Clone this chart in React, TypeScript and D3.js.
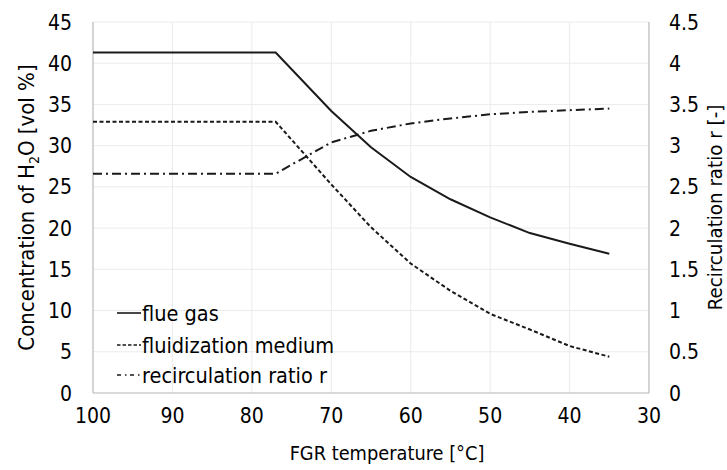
import React from "react";
import * as d3 from "d3";

const temps = [100, 77, 70, 65, 60, 55, 50, 45, 40, 35];
const flueGas = [41.3, 41.3, 34.2, 29.8, 26.2, 23.5, 21.3, 19.4, 18.1, 16.9];
const fluidMedium = [32.9, 32.9, 25.3, 20.1, 15.7, 12.4, 9.6, 7.7, 5.7, 4.4];
const recircRatio = [2.66, 2.66, 3.04, 3.18, 3.27, 3.33, 3.38, 3.41, 3.43, 3.45];

const xTicks = [100, 90, 80, 70, 60, 50, 40, 30];
const yLeftTicks = [0, 5, 10, 15, 20, 25, 30, 35, 40, 45];
const yRightTicks = [0, 0.5, 1, 1.5, 2, 2.5, 3, 3.5, 4, 4.5];
const legendLabels = ["flue gas", "fluidization medium", "recirculation ratio r"];

const W = 727;
const H = 470;
const L = 93, R = 649, T = 22, B = 393;
const FONT = "'DejaVu Sans Condensed', 'DejaVu Sans', sans-serif";

export default function App() {
  const x = d3.scaleLinear().domain([100, 30]).range([L, R]);
  const yL = d3.scaleLinear().domain([0, 45]).range([B, T]);
  const yR = d3.scaleLinear().domain([0, 4.5]).range([B, T]);

  const lineL = d3.line<[number, number]>().x((d) => x(d[0])).y((d) => yL(d[1]));
  const lineR = d3.line<[number, number]>().x((d) => x(d[0])).y((d) => yR(d[1]));

  const flue = lineL(temps.map((t, i) => [t, flueGas[i]]) as [number, number][]) || "";
  const fluid = lineL(temps.map((t, i) => [t, fluidMedium[i]]) as [number, number][]) || "";
  const recirc = lineR(temps.map((t, i) => [t, recircRatio[i]]) as [number, number][]) || "";

  const legendY = [313, 345, 375];
  const legendDash = ["none", "3.5 2", "4 4 1.5 3.5"];

  return (
    <svg width={W} height={H} style={{ position: "absolute", left: 0, top: 0 }} fontFamily={FONT}>
      <rect x={0} y={0} width={W} height={H} fill="#fff" />
      {/* grid */}
      {xTicks.map((t) => (
        <line key={"gx" + t} x1={x(t)} x2={x(t)} y1={T} y2={B} stroke="#ebebeb" strokeWidth={1} />
      ))}
      {yLeftTicks.map((t) => (
        <line key={"gy" + t} x1={L} x2={R} y1={yL(t)} y2={yL(t)} stroke="#ebebeb" strokeWidth={1} />
      ))}
      {/* axes */}
      <line x1={L} x2={L} y1={T} y2={B} stroke="#bfbfbf" strokeWidth={1.2} />
      <line x1={R} x2={R} y1={T} y2={B} stroke="#bfbfbf" strokeWidth={1.2} />
      <line x1={L} x2={R} y1={B} y2={B} stroke="#bfbfbf" strokeWidth={1.2} />

      {/* series */}
      <path d={flue} fill="none" stroke="#1a1a1a" strokeWidth={2} />
      <path d={fluid} fill="none" stroke="#1a1a1a" strokeWidth={2} strokeDasharray="4 2.5" />
      <path d={recirc} fill="none" stroke="#1a1a1a" strokeWidth={2} strokeDasharray="9 4 2 4" />

      {/* tick labels */}
      {yLeftTicks.map((t) => (
        <text key={"yl" + t} x={72} y={yL(t)} dy="0.36em" textAnchor="end" fontSize={21} fill="#000">
          {t}
        </text>
      ))}
      {yRightTicks.map((t) => (
        <text key={"yr" + t} x={669} y={yR(t)} dy="0.36em" textAnchor="start" fontSize={21} fill="#000">
          {t}
        </text>
      ))}
      {xTicks.map((t) => (
        <text key={"xt" + t} x={x(t)} y={423} textAnchor="middle" fontSize={21} fill="#000">
          {t}
        </text>
      ))}

      {/* axis titles */}
      <text x={387} y={460} textAnchor="middle" fontSize={19.8} fill="#000">
        FGR temperature [°C]
      </text>
      <text transform={`translate(34,${(T + B) / 2}) rotate(-90)`} textAnchor="middle" fontSize={22} fill="#000">
        Concentration of H<tspan fontSize={14} dy={5}>2</tspan><tspan dy={-5}>O [vol %]</tspan>
      </text>
      <text transform={`translate(722,${(T + B) / 2}) rotate(-90)`} textAnchor="middle" fontSize={20.3} fill="#000">
        Recirculation ratio r [-]
      </text>

      {/* legend */}
      {legendLabels.map((lab, i) => (
        <g key={lab}>
          <line
            x1={117}
            x2={141}
            y1={legendY[i]}
            y2={legendY[i]}
            stroke="#1a1a1a"
            strokeWidth={1.6}
            strokeDasharray={legendDash[i]}
          />
          <text x={142} y={legendY[i]} dy="0.36em" fontSize={21.5} fill="#000">
            {lab}
          </text>
        </g>
      ))}
    </svg>
  );
}
